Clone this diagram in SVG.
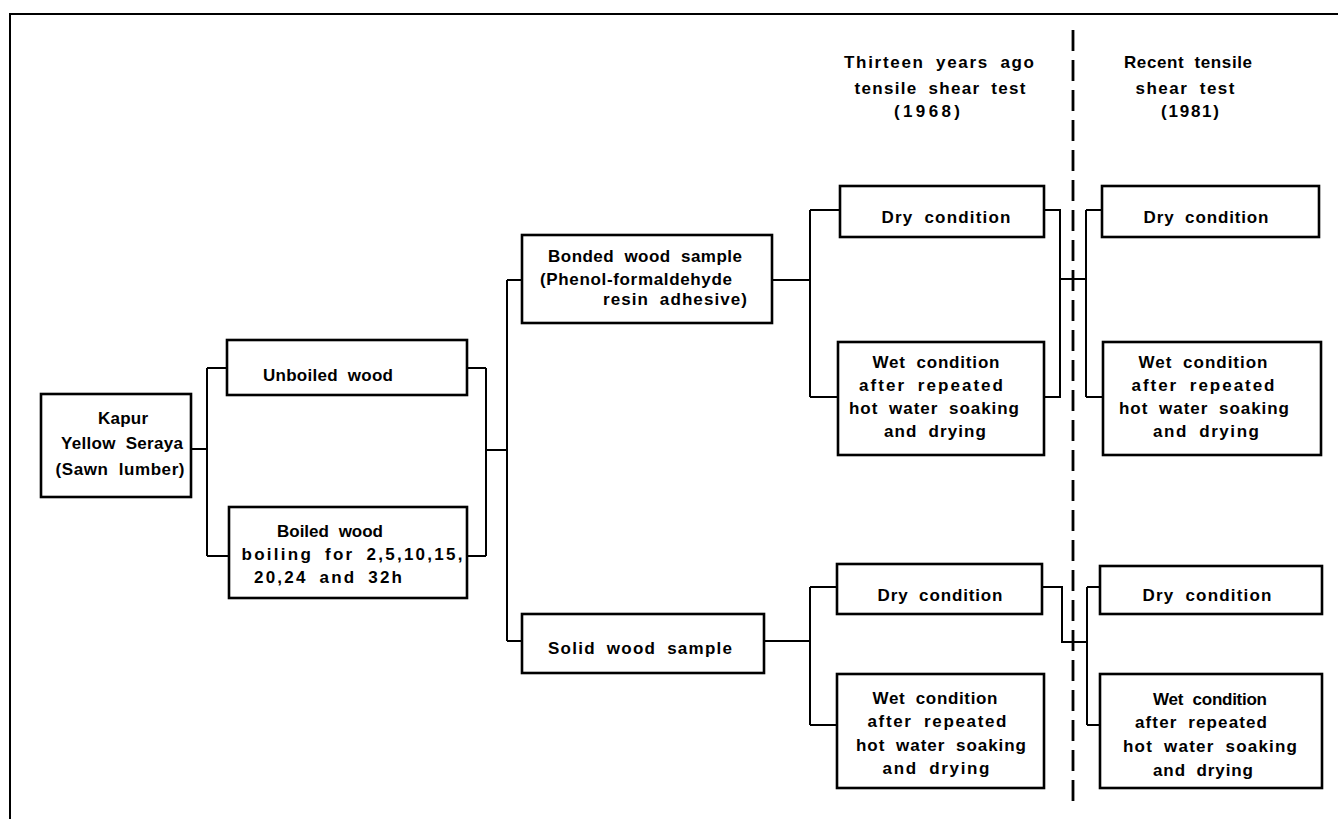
<svg xmlns="http://www.w3.org/2000/svg" width="1338" height="819" viewBox="0 0 1338 819">
<style>
.box{fill:#fff;stroke:#000;stroke-width:2.6}
.con{fill:none;stroke:#000;stroke-width:2}
.frame{fill:none;stroke:#000;stroke-width:2}
.dash{fill:none;stroke:#000;stroke-width:2.8;stroke-dasharray:21 9}
text{font-family:"Liberation Sans",Arial,sans-serif;font-weight:bold;font-size:17px;fill:#000;text-anchor:middle;word-spacing:5px}
</style>
<rect width="1338" height="819" fill="#fff"/>
<path class="frame" d="M1338,14 H10 V819"/>
<line class="dash" x1="1073" y1="30" x2="1073" y2="802"/>

<g id="headers">
<text x="939" y="68" textLength="190" lengthAdjust="spacing">Thirteen years ago</text>
<text x="940" y="94" textLength="171" lengthAdjust="spacing">tensile shear test</text>
<text x="927" y="117" textLength="66" lengthAdjust="spacing">(1968)</text>
<text x="1188" y="68" textLength="128" lengthAdjust="spacing">Recent tensile</text>
<text x="1185" y="94" textLength="99" lengthAdjust="spacing">shear test</text>
<text x="1190" y="117" textLength="58" lengthAdjust="spacing">(1981)</text>
</g>

<g id="connectors">
<path class="con" d="M191,449 H207 M207,368 V556 M207,368 H227 M207,556 H229"/>
<path class="con" d="M467,368 H486 M467,556 H486 M486,368 V556 M486,450 H507 M507,280 V641 M507,280 H522 M507,641 H522"/>
<path class="con" d="M772,280 H810 M810,210 V397 M810,210 H840 M810,397 H838"/>
<path class="con" d="M764,641 H810 M810,587 V725 M810,587 H837 M810,725 H837"/>
<path class="con" d="M1044,210 H1060 V397 H1044 M1060,279 H1086 M1086,210 V397 M1086,210 H1102 M1086,397 H1103"/>
<path class="con" d="M1042,587 H1062 V642 H1087 M1087,587 V725 M1087,587 H1100 M1087,725 H1100"/>
</g>

<g id="kapur">
<rect class="box" x="41" y="394" width="150" height="103"/>
<text x="123" y="424" textLength="50" lengthAdjust="spacing">Kapur</text>
<text x="122" y="449" textLength="122" lengthAdjust="spacing">Yellow Seraya</text>
<text x="120" y="475" textLength="129" lengthAdjust="spacing">(Sawn lumber)</text>
</g>

<g id="unboiled">
<rect class="box" x="227" y="340" width="240" height="55"/>
<text x="328" y="381" textLength="130" lengthAdjust="spacing">Unboiled wood</text>
</g>

<g id="boiled">
<rect class="box" x="229" y="507" width="238" height="91"/>
<text x="330" y="537" textLength="106" lengthAdjust="spacing">Boiled wood</text>
<text x="352" y="560" textLength="221" lengthAdjust="spacing">boiling for 2,5,10,15,</text>
<text x="328" y="583" textLength="148" lengthAdjust="spacing">20,24 and 32h</text>
</g>

<g id="bonded">
<rect class="box" x="522" y="235" width="250" height="88"/>
<text x="645" y="262" textLength="194" lengthAdjust="spacing">Bonded wood sample</text>
<text x="636" y="285" textLength="192" lengthAdjust="spacing">(Phenol-formaldehyde</text>
<text x="675" y="305" textLength="144" lengthAdjust="spacing">resin adhesive)</text>
</g>

<g id="solid">
<rect class="box" x="522" y="614" width="242" height="59"/>
<text x="640" y="654" textLength="184" lengthAdjust="spacing">Solid wood sample</text>
</g>

<g id="dry1968a">
<rect class="box" x="840" y="186" width="204" height="51"/>
<text x="946" y="223" textLength="129" lengthAdjust="spacing">Dry condition</text>
</g>

<g id="wet1968a">
<rect class="box" x="838" y="342" width="206" height="113"/>
<text x="936" y="368" textLength="127" lengthAdjust="spacing">Wet condition</text>
<text x="931" y="391" textLength="144" lengthAdjust="spacing">after repeated</text>
<text x="934" y="414" textLength="170" lengthAdjust="spacing">hot water soaking</text>
<text x="935" y="437" textLength="102" lengthAdjust="spacing">and drying</text>
</g>

<g id="dry1981a">
<rect class="box" x="1102" y="186" width="217" height="51"/>
<text x="1206" y="223" textLength="125" lengthAdjust="spacing">Dry condition</text>
</g>

<g id="wet1981a">
<rect class="box" x="1103" y="342" width="218" height="113"/>
<text x="1203" y="368" textLength="129" lengthAdjust="spacing">Wet condition</text>
<text x="1203" y="391" textLength="143" lengthAdjust="spacing">after repeated</text>
<text x="1204" y="414" textLength="170" lengthAdjust="spacing">hot water soaking</text>
<text x="1206" y="437" textLength="106" lengthAdjust="spacing">and drying</text>
</g>

<g id="dry1968b">
<rect class="box" x="837" y="564" width="205" height="50"/>
<text x="940" y="601" textLength="125" lengthAdjust="spacing">Dry condition</text>
</g>

<g id="wet1968b">
<rect class="box" x="837" y="674" width="207" height="114"/>
<text x="935" y="704" textLength="125" lengthAdjust="spacing">Wet condition</text>
<text x="937" y="727" textLength="139" lengthAdjust="spacing">after repeated</text>
<text x="941" y="751" textLength="170" lengthAdjust="spacing">hot water soaking</text>
<text x="936" y="774" textLength="107" lengthAdjust="spacing">and drying</text>
</g>

<g id="dry1981b">
<rect class="box" x="1100" y="566" width="222" height="48"/>
<text x="1207" y="601" textLength="129" lengthAdjust="spacing">Dry condition</text>
</g>

<g id="wet1981b">
<rect class="box" x="1100" y="674" width="222" height="114"/>
<text x="1210" y="705" textLength="114" lengthAdjust="spacing">Wet condition</text>
<text x="1201" y="728" textLength="132" lengthAdjust="spacing">after repeated</text>
<text x="1210" y="752" textLength="174" lengthAdjust="spacing">hot water soaking</text>
<text x="1203" y="776" textLength="100" lengthAdjust="spacing">and drying</text>
</g>
</svg>
